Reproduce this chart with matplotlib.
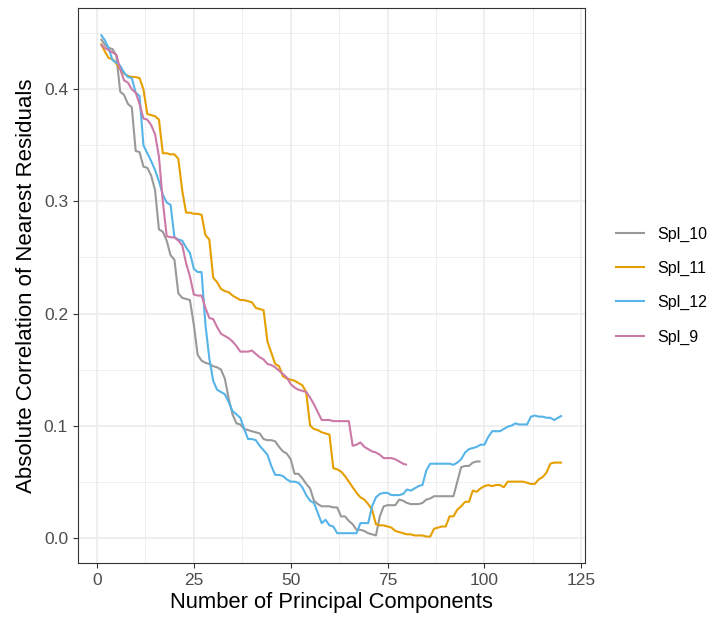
import numpy as np
import matplotlib
matplotlib.use('Agg')
import matplotlib.pyplot as plt
from matplotlib.ticker import MultipleLocator

plt.rcParams['font.family'] = ['Liberation Sans', 'DejaVu Sans']

# values, one per principal component
spl_10 = [0.445, 0.440, 0.437, 0.436, 0.430, 0.398, 0.395, 0.387, 0.384, 0.345,
          0.344, 0.331, 0.330, 0.323, 0.310, 0.275, 0.273, 0.265, 0.252, 0.248,
          0.218, 0.214, 0.213, 0.212, 0.190, 0.163, 0.158, 0.156, 0.155, 0.153,
          0.152, 0.150, 0.142, 0.124, 0.110, 0.102, 0.101, 0.097, 0.096, 0.095,
          0.094, 0.093, 0.088, 0.087, 0.087, 0.086, 0.081, 0.077, 0.075, 0.070,
          0.057, 0.057, 0.053, 0.048, 0.044, 0.033, 0.030, 0.028, 0.028, 0.028,
          0.027, 0.027, 0.019, 0.019, 0.015, 0.012, 0.007, 0.007, 0.006, 0.004,
          0.003, 0.002, 0.019, 0.028, 0.029, 0.029, 0.029, 0.034, 0.033, 0.031,
          0.030, 0.030, 0.030, 0.031, 0.034, 0.035, 0.037, 0.037, 0.037, 0.037,
          0.037, 0.037, 0.050, 0.063, 0.064, 0.064, 0.067, 0.068, 0.068]

spl_11 = [0.441, 0.434, 0.428, 0.427, 0.423, 0.418, 0.414, 0.412, 0.411, 0.411,
          0.410, 0.400, 0.378, 0.377, 0.376, 0.373, 0.343, 0.343, 0.342, 0.342,
          0.338, 0.310, 0.290, 0.290, 0.289, 0.289, 0.288, 0.270, 0.266, 0.232,
          0.228, 0.222, 0.220, 0.219, 0.216, 0.214, 0.212, 0.212, 0.211, 0.210,
          0.205, 0.204, 0.203, 0.175, 0.165, 0.155, 0.153, 0.144, 0.142, 0.141,
          0.140, 0.138, 0.136, 0.130, 0.100, 0.097, 0.096, 0.094, 0.093, 0.092,
          0.062, 0.061, 0.059, 0.055, 0.050, 0.045, 0.040, 0.036, 0.034, 0.030,
          0.025, 0.012, 0.011, 0.011, 0.010, 0.009, 0.006, 0.005, 0.004, 0.003,
          0.003, 0.002, 0.002, 0.002, 0.001, 0.001, 0.008, 0.009, 0.010, 0.010,
          0.019, 0.019, 0.025, 0.028, 0.032, 0.032, 0.042, 0.041, 0.044, 0.046,
          0.047, 0.046, 0.047, 0.047, 0.045, 0.050, 0.050, 0.050, 0.050, 0.050,
          0.049, 0.048, 0.048, 0.052, 0.054, 0.058, 0.066, 0.067, 0.067, 0.067]

spl_12 = [0.449, 0.444, 0.437, 0.426, 0.424, 0.421, 0.415, 0.411, 0.410, 0.397,
          0.394, 0.350, 0.343, 0.336, 0.328, 0.318, 0.306, 0.299, 0.297, 0.268,
          0.266, 0.265, 0.259, 0.254, 0.240, 0.237, 0.237, 0.190, 0.160, 0.140,
          0.132, 0.130, 0.128, 0.121, 0.113, 0.110, 0.107, 0.097, 0.088, 0.088,
          0.087, 0.082, 0.078, 0.074, 0.064, 0.056, 0.056, 0.055, 0.052, 0.050,
          0.050, 0.049, 0.045, 0.038, 0.033, 0.031, 0.022, 0.013, 0.016, 0.011,
          0.010, 0.004, 0.004, 0.004, 0.004, 0.004, 0.004, 0.013, 0.013, 0.013,
          0.028, 0.036, 0.039, 0.040, 0.040, 0.038, 0.038, 0.038, 0.039, 0.043,
          0.042, 0.044, 0.046, 0.047, 0.060, 0.066, 0.066, 0.066, 0.066, 0.066,
          0.066, 0.065, 0.067, 0.070, 0.076, 0.079, 0.080, 0.081, 0.083, 0.083,
          0.090, 0.095, 0.095, 0.095, 0.097, 0.099, 0.100, 0.102, 0.101, 0.101,
          0.101, 0.108, 0.109, 0.108, 0.108, 0.107, 0.107, 0.105, 0.107, 0.109]

spl_9 = [0.440, 0.437, 0.435, 0.433, 0.431, 0.418, 0.408, 0.406, 0.400, 0.397,
         0.387, 0.374, 0.373, 0.368, 0.360, 0.340, 0.300, 0.269, 0.268, 0.268,
         0.265, 0.261, 0.245, 0.233, 0.217, 0.216, 0.216, 0.205, 0.196, 0.195,
         0.188, 0.182, 0.180, 0.178, 0.175, 0.171, 0.166, 0.166, 0.166, 0.167,
         0.164, 0.161, 0.159, 0.155, 0.154, 0.152, 0.149, 0.146, 0.143, 0.137,
         0.134, 0.132, 0.131, 0.130, 0.125, 0.119, 0.112, 0.105, 0.105, 0.105,
         0.104, 0.104, 0.104, 0.104, 0.104, 0.082, 0.083, 0.085, 0.081, 0.079,
         0.077, 0.076, 0.074, 0.071, 0.071, 0.071, 0.070, 0.068, 0.066, 0.065]

labels = ['Spl_10', 'Spl_11', 'Spl_12', 'Spl_9']
series = [spl_10, spl_11, spl_12, spl_9]
colors = ['#999999', '#E69F00', '#56B4E9', '#CC79A7']

fig = plt.figure(figsize=(7.2, 6.22), dpi=100)
fig.subplots_adjust(left=0.108, right=0.8125, bottom=0.095, top=0.987)
ax = fig.add_subplot(1, 1, 1)

for lab, vals, col in zip(labels, series, colors):
    x = np.arange(1, len(vals) + 1)
    ax.plot(x, vals, color=col, lw=1.5, label=lab, solid_capstyle='butt')

ax.set_xlim(1 - 119 * 0.05, 120 + 119 * 0.05)
ax.set_ylim(-0.45 * 0.05, 0.45 * 1.05)
ax.xaxis.set_major_locator(MultipleLocator(25))
ax.xaxis.set_minor_locator(MultipleLocator(12.5))
ax.yaxis.set_major_locator(MultipleLocator(0.1))
ax.yaxis.set_minor_locator(MultipleLocator(0.05))
ax.yaxis.set_major_formatter(matplotlib.ticker.FormatStrFormatter('%.1f'))

ax.grid(which='major', color='#EBEBEB', lw=1.1)
ax.grid(which='minor', color='#EBEBEB', lw=0.55)
ax.set_axisbelow(True)
for s in ax.spines.values():
    s.set_color('#333333')
    s.set_linewidth(0.8)
ax.tick_params(which='major', length=3.5, width=0.8, color='#333333',
               labelcolor='#4D4D4D', labelsize=12.5)
ax.tick_params(which='minor', length=0)

ax.set_xlabel('Number of Principal Components', fontsize=15.8, labelpad=3)
ax.set_ylabel('Absolute Correlation of Nearest Residuals', fontsize=16, labelpad=5)

leg = ax.legend(loc='center left', bbox_to_anchor=(1.03, 0.5), frameon=False,
                fontsize=11.5, handlelength=1.9, labelspacing=1.2, handletextpad=0.8)

fig.savefig('out.png', dpi=100)
